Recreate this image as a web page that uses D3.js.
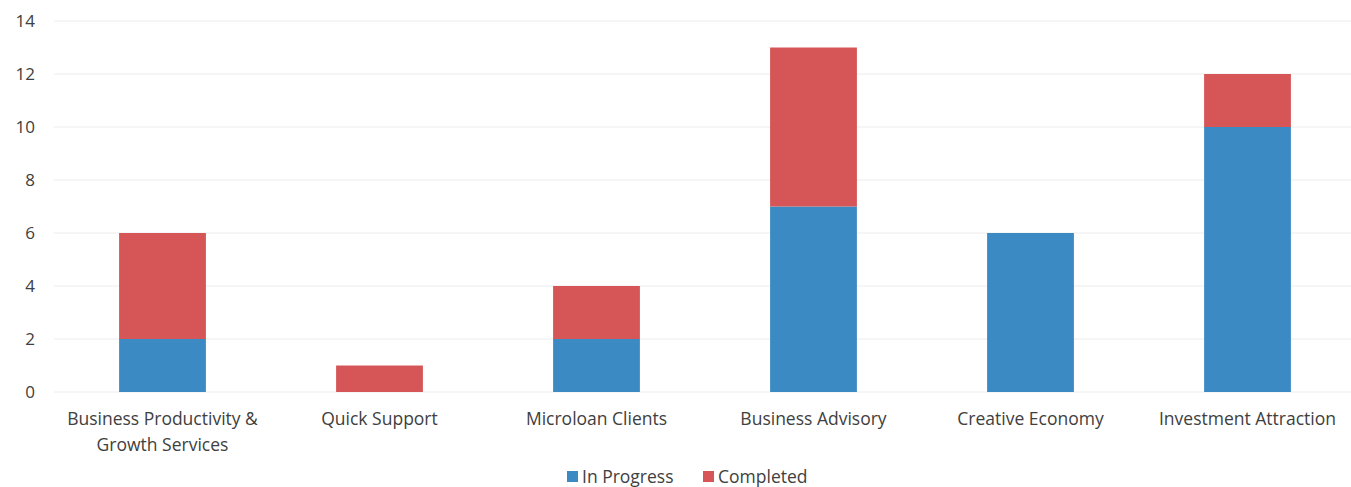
<!DOCTYPE html>
<html><head><meta charset="utf-8">
<script src="https://cdn.jsdelivr.net/npm/d3@7"></script>
<style>body{margin:0;background:#fff;} text{font-family:"Open Sans","Noto Sans",sans-serif;fill:#404040;}</style>
</head><body><svg id="c" width="1351" height="487"></svg>
<script>
const categories = [["Business Productivity &","Growth Services"],["Quick Support"],["Microloan Clients"],["Business Advisory"],["Creative Economy"],["Investment Attraction"]];
const inProgress = [2, 0, 2, 7, 6, 10];
const completed = [4, 1, 2, 6, 0, 2];
const yTicks = [0,2,4,6,8,10,12,14];
const seriesNames = ["In Progress","Completed"];
const colors = ["#3c8ac4","#d65556"];

(function(){
const svg = d3.select("#c");
const pL = 54, pR = 1356, pT = 21, pB = 392;
const keys = categories.map((c,i)=>i);
const x = d3.scaleBand().domain(keys).range([pL,pR]).paddingInner(0.6).paddingOuter(0.3);
const y = d3.scaleLinear().domain([0,14]).range([pB,pT]);

svg.append("g").selectAll("line").data(yTicks).join("line")
  .attr("x1",pL).attr("x2",pR).attr("y1",d=>y(d)).attr("y2",d=>y(d))
  .attr("stroke","#ececec").attr("stroke-width",1);

const yAxis = svg.append("g").attr("transform",`translate(35,0)`)
  .call(d3.axisLeft(y).tickValues(yTicks).tickSize(0).tickPadding(0));
yAxis.select(".domain").remove();
yAxis.selectAll("text").style("font-size","17px").attr("fill","#404040");

const data = keys.map(i=>({i, a:inProgress[i], b:completed[i]}));
const stack = d3.stack().keys(["a","b"])(data);
svg.append("g").selectAll("g").data(stack).join("g").attr("fill",(d,k)=>colors[k])
  .selectAll("rect").data(d=>d.filter(p=>p[1]>p[0])).join("rect")
  .attr("x",d=>x(d.data.i)).attr("width",x.bandwidth())
  .attr("y",d=>y(d[1])).attr("height",d=>y(d[0])-y(d[1]));

const lab = svg.append("g");
categories.forEach((lines,i)=>{
  const t = lab.append("text").attr("text-anchor","middle").style("font-size","17.5px")
    .attr("x", x(i)+x.bandwidth()/2).attr("y", 425);
  lines.forEach((l,j)=>t.append("tspan").attr("x",x(i)+x.bandwidth()/2).attr("dy", j?26:0).text(l));
});

const leg = svg.append("g");
const legX = [567, 703];
seriesNames.forEach((n,k)=>{
  leg.append("rect").attr("x",legX[k]).attr("y",471).attr("width",11).attr("height",11).attr("fill",colors[k]);
  leg.append("text").attr("x",legX[k]+15).attr("y",483).style("font-size","17.5px").text(n);
});
})();
</script></body></html>
